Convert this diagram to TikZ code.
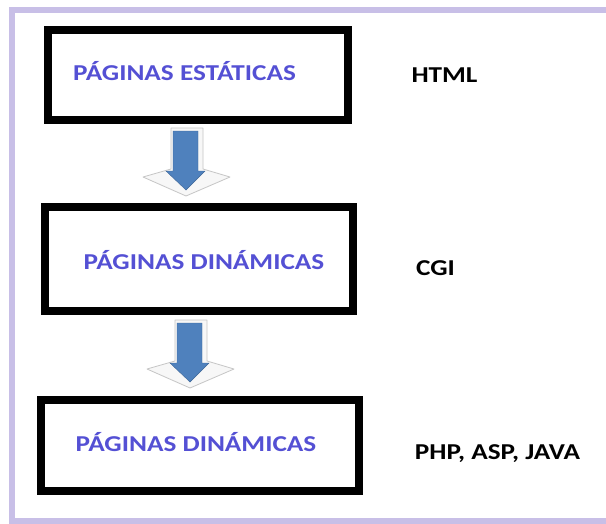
\documentclass[tikz,border=0pt]{standalone}
\usepackage{fontspec}
\setmainfont{Carlito}
\newfontfamily\widefont[FakeStretch=1.2]{Carlito}
\definecolor{framec}{RGB}{200,191,231}
\definecolor{txtblue}{RGB}{84,80,212}
\definecolor{arrblue}{RGB}{79,129,189}
\begin{document}
\begin{tikzpicture}[x=1pt,y=-1pt,
  box/.style={draw=black, line width=8pt, fill=white, inner sep=0pt},
  btext/.style={font=\widefont\fontsize{22.7}{26}\selectfont\bfseries, text=txtblue, inner sep=0pt, anchor=base},
  ktext/.style={font=\widefont\fontsize{22.7}{26}\selectfont\bfseries, text=black, inner sep=0pt, anchor=base},
  bevel/.style={fill=gray!6, draw=gray!45, line width=0.8pt, line join=round},
  blk/.style={fill=arrblue, draw=arrblue!80!black, line width=0.4pt}]
\useasboundingbox (0,0) rectangle (606,523);
\clip (0,0) rectangle (606,523);
\fill[white] (0,0) rectangle (606,523);
\draw[framec, line width=6pt] (12,10) rectangle (615,521);
% boxes
\node[box, minimum width=300pt, minimum height=90pt] (b1) at (198,75) {};
\node[box, minimum width=308pt, minimum height=104pt] (b2) at (199,259) {};
\node[box, minimum width=318pt, minimum height=91pt] (b3) at (200,445.5) {};
% texts
\node[btext] (t1) at (184.5,80) {PÁGINAS ESTÁTICAS};
\node[btext] (t2) at (204,269) {PÁGINAS DINÁMICAS};
\node[btext] (t3) at (196,451) {PÁGINAS DINÁMICAS};
\node[ktext] (k1) at (444.5,82) {HTML};
\node[ktext] (k2) at (435.5,275) {CGI};
\node[ktext] (k3) at (497.5,459) {PHP, ASP, JAVA};
% arrows
\foreach \cx/\ty/\n in {186/128/a1, 190/320/a2} {
  \begin{scope}[shift={(\cx,\ty)}]
    \draw[bevel] (-15,0) -- (17,0) -- (17,41) -- (44,49) -- (0,68) -- (-43,49) -- (-15,41) -- cycle;
    \draw[blk] (-13,3) -- (12,3) -- (12,43) -- (19,43) -- (0,62) -- (-20,43) -- (-13,43) -- cycle;
  \end{scope}
}
\end{tikzpicture}
\end{document}
